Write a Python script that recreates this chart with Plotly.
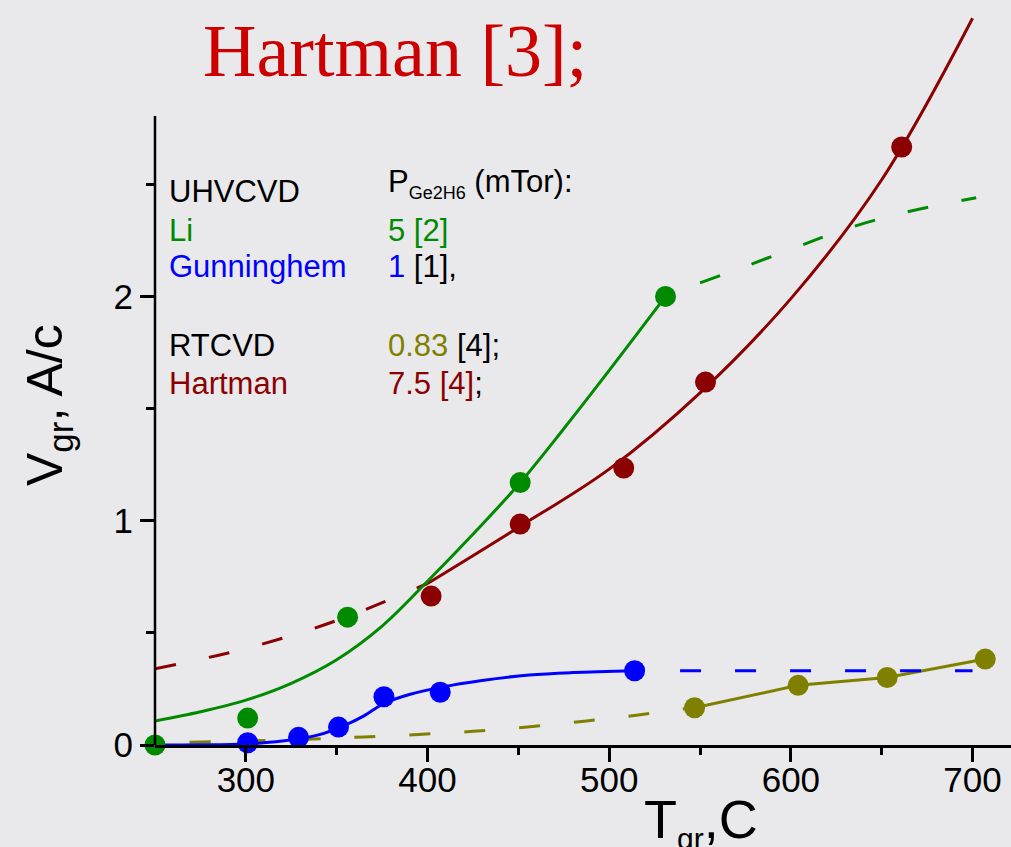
import plotly.graph_objects as go

# ---------------- data ----------------
# Li (UHVCVD, 5 mTor) measured points
li_x = [250, 301, 356, 451, 531]
li_y = [0.0, 0.12, 0.57, 1.17, 2.0]
# Li fit curve (solid) and its extrapolation (dashed)
li_fit_x = [250, 275, 300, 325, 350, 375, 400, 425, 450, 475, 500, 531]
li_fit_y = [0.107, 0.148, 0.20, 0.275, 0.38, 0.53, 0.73, 0.94, 1.16, 1.41, 1.67, 2.0]
li_ext_x = [550, 567, 600, 630, 663, 702]
li_ext_y = [2.06, 2.11, 2.21, 2.30, 2.375, 2.44]

# Gunninghem (UHVCVD, 1 mTor)
gun_x = [301, 329, 351, 376, 407, 514]
gun_y = [0.01, 0.034, 0.08, 0.215, 0.235, 0.331]
gun_fit_x = [250, 275, 300, 320, 340, 355, 365, 376, 390, 407, 430, 456, 480, 514]
gun_fit_y = [0.0, 0.001, 0.005, 0.018, 0.045, 0.09, 0.13, 0.185, 0.225, 0.257, 0.288, 0.312, 0.323, 0.331]
gun_ext_x = [539, 700]
gun_ext_y = [0.331, 0.331]

# RTCVD 0.83 mTor
rt_x = [547, 604, 653, 707]
rt_y = [0.166, 0.266, 0.301, 0.383]
rt_ext_x = [269, 300, 337, 365, 395, 425, 455, 485, 515, 545]
rt_ext_y = [0.012, 0.018, 0.027, 0.036, 0.047, 0.061, 0.08, 0.105, 0.133, 0.165]

# Hartman 7.5 mTor
har_x = [402, 451, 508, 553, 661]
har_y = [0.664, 0.985, 1.235, 1.618, 2.666]
har_fit_x = [400, 450, 500, 550, 600, 650, 700]
har_fit_y = [0.72, 0.97, 1.23, 1.57, 1.99, 2.52, 3.24]
har_ext_x = [250, 300, 350, 400]
har_ext_y = [0.34, 0.43, 0.555, 0.72]

x_ticks = [300, 400, 500, 600, 700]
x_minor = [350, 450, 550, 650]
y_ticks = [0, 1, 2]
y_minor = [0.5, 1.5, 2.5]
y_axis_top = 2.804

# ---------------- styles ----------------
GREEN = "#008a00"
BLUE = "#0000ff"
OLIVE = "#808000"
DRED = "#8b0000"
BG = "#e9e9eb"
DASH = "21px,34px"
LW = 3
MS = 21

W, H = 1011, 847
L, R, T, B = 155, 0, 0, 102
PW, PH = W - L - R, H - T - B
XPX = 1.8168   # px per x unit
YPX = 224.3    # px per y unit
XMIN = 250
XMAX = XMIN + PW / XPX
YMAX = PH / YPX


def pxx(px):
    return (px - L) / PW


def pxy(py):
    return (H - B - py) / PH


fig = go.Figure()


def line(x, y, color, dash=None, shape="spline"):
    fig.add_trace(go.Scatter(x=x, y=y, mode="lines",
                             line=dict(color=color, width=LW, dash=dash, shape=shape, smoothing=1.0),
                             hoverinfo="skip"))


def pts(x, y, color):
    fig.add_trace(go.Scatter(x=x, y=y, mode="markers", cliponaxis=False,
                             marker=dict(color=color, size=MS, line=dict(width=0))))


line(rt_ext_x, rt_ext_y, OLIVE, DASH)
line(rt_x, rt_y, OLIVE, None, "linear")
line(gun_ext_x, gun_ext_y, BLUE, DASH, "linear")
line(gun_fit_x, gun_fit_y, BLUE)
line(har_ext_x, har_ext_y, DRED, DASH)
line(har_fit_x, har_fit_y, DRED)
line(li_ext_x, li_ext_y, GREEN, DASH)
line(li_fit_x, li_fit_y, GREEN)

pts(rt_x, rt_y, OLIVE)
pts(gun_x, gun_y, BLUE)
pts(har_x, har_y, DRED)
pts(li_x, li_y, GREEN)

FONT = "Liberation Sans"
fig.update_layout(
    width=W, height=H,
    margin=dict(l=L, r=R, t=T, b=B, pad=0),
    paper_bgcolor=BG, plot_bgcolor=BG,
    showlegend=False,
    font=dict(family=FONT, color="black"),
    xaxis=dict(range=[XMIN, XMAX], showline=True, linecolor="black", linewidth=2.5,
               ticks="outside", ticklen=14, tickwidth=2.5, tickcolor="black",
               tickvals=x_ticks, ticktext=[str(v) for v in x_ticks],
               tickfont=dict(size=35, family=FONT, color="black"),
               ticklabelstandoff=-12,
               showgrid=False, zeroline=False,
               minor=dict(tickvals=x_minor, ticklen=7, tickwidth=2.5, tickcolor="black",
                          ticks="outside", showgrid=False)),
    yaxis=dict(range=[0, YMAX], showline=False,
               ticks="outside", ticklen=14, tickwidth=2.5, tickcolor="black",
               tickvals=y_ticks, ticktext=[str(v) for v in y_ticks],
               tickfont=dict(size=35, family=FONT, color="black"),
               showgrid=False, zeroline=False,
               minor=dict(tickvals=y_minor, ticklen=8, tickwidth=2.5, tickcolor="black",
                          ticks="outside", showgrid=False)),
)

# y axis line (stops at the top of the axis, curves extend above it)
fig.add_shape(type="line", xref="paper", yref="y", x0=0, x1=0, y0=0, y1=y_axis_top,
              line=dict(color="black", width=2.5), layer="above")

annots = []
FS = 31


def txt(px, base, text, size=FS, family=FONT, color="black", xanchor="left"):
    top = base - 0.905 * size
    annots.append(dict(xref="paper", yref="paper", x=pxx(px), y=pxy(top),
                       xanchor=xanchor, yanchor="top", showarrow=False, text=text,
                       font=dict(size=size, family=family, color=color), borderpad=0))


# legend-like text block
txt(168, 201, "UHVCVD")
txt(168, 240, "Li", color=GREEN)
txt(168, 276, "Gunninghem", color=BLUE)
txt(168, 355, "RTCVD")
txt(168, 393, "Hartman", color=DRED)
txt(387, 191, 'P<sub><span style="font-size:18px">Ge2H6</span></sub> (mTor):')
txt(387, 240, "5 [2]", color=GREEN)
txt(387, 276, f'<span style="color:{BLUE}">1</span> [1],')
txt(387, 355, f'<span style="color:{OLIVE}">0.83</span> [4];')
txt(387, 393, f'<span style="color:{DRED}">7.5 [4]</span>;')

# slide title fragment
txt(395, 76, "Hartman [3];", size=74, family="Liberation Serif", color="#cc0000", xanchor="center")

# axis titles
txt(701, 837, 'T<sub><span style="font-size:30px">gr</span></sub>,C', size=54, xanchor="center")
annots.append(dict(xref="paper", yref="paper", x=pxx(48), y=pxy(405), xanchor="center",
                   yanchor="middle", showarrow=False, textangle=-90,
                   text="V<sub>gr</sub>, A/c", font=dict(size=50, family=FONT, color="black")))

fig.update_layout(annotations=annots)
fig.write_html("out.html", config={"displayModeBar": False},
               post_script="document.body.style.margin='0px';document.body.style.padding='0px';")
